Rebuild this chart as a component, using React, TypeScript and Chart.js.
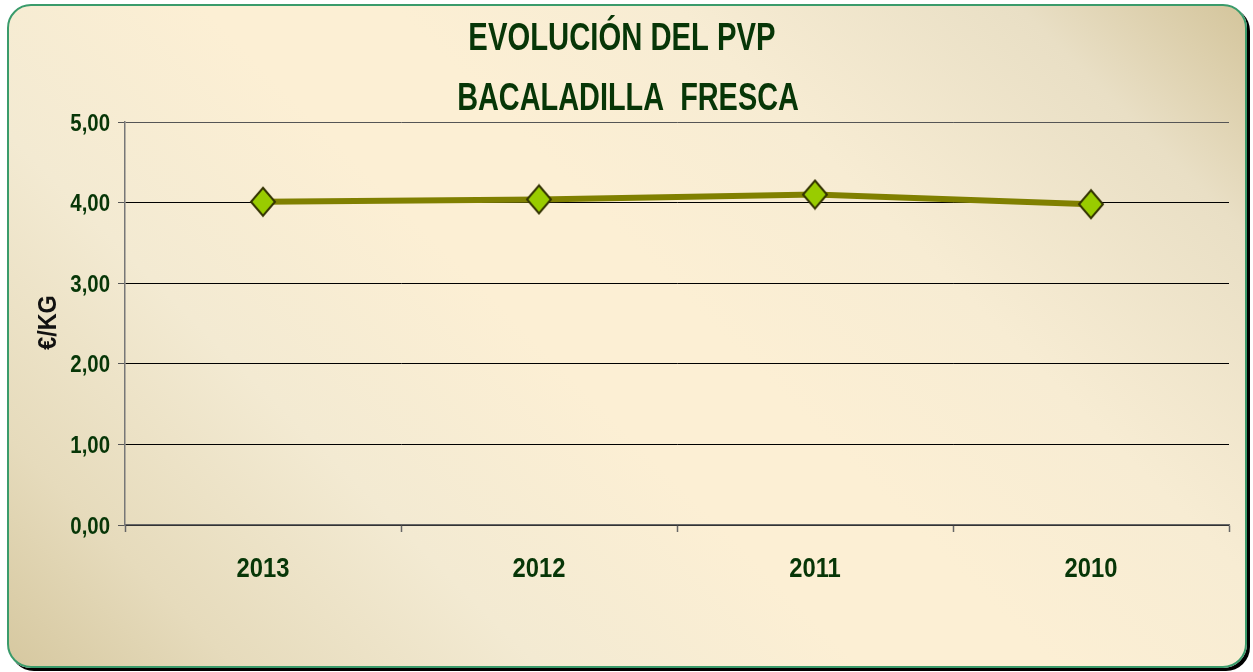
import React, { useEffect, useRef } from "react";
import { Chart, registerables } from "chart.js";

Chart.register(...registerables);

const categories: string[] = ["2013", "2012", "2011", "2010"];
const prices: number[] = [4.01, 4.04, 4.1, 3.98];
const yTicks: number[] = [0, 1, 2, 3, 4, 5];
const titleLines: string[] = ["EVOLUCIÓN DEL PVP", "BACALADILLA  FRESCA"];
const yAxisTitle = "€/KG";

const FONT = "'Liberation Sans', Arial, sans-serif";
const TEXT_GREEN = "#073607";

function makeDiamond(): HTMLCanvasElement {
  const c = document.createElement("canvas");
  const w = 28;
  const h = 32;
  c.width = w;
  c.height = h;
  const ctx = c.getContext("2d")!;
  ctx.beginPath();
  ctx.moveTo(w / 2, 2);
  ctx.lineTo(w - 2, h / 2);
  ctx.lineTo(w / 2, h - 2);
  ctx.lineTo(2, h / 2);
  ctx.closePath();
  ctx.fillStyle = "#99CC00";
  ctx.fill();
  ctx.lineWidth = 2;
  ctx.strokeStyle = "#333300";
  ctx.stroke();
  return c;
}

function narrowText(
  ctx: CanvasRenderingContext2D,
  text: string,
  x: number,
  y: number,
  sx: number,
  align: CanvasTextAlign
) {
  ctx.save();
  ctx.translate(x, y);
  ctx.scale(sx, 1);
  ctx.textAlign = align;
  ctx.textBaseline = "alphabetic";
  ctx.fillText(text, 0, 0);
  ctx.restore();
}

const fmt = (v: number) => v.toFixed(2).replace(".", ",");

const textPlugin = {
  id: "customText",
  afterDraw(chart: any) {
    const ctx = chart.ctx as CanvasRenderingContext2D;
    ctx.save();
    ctx.fillStyle = TEXT_GREEN;
    ctx.font = `bold 38px ${FONT}`;
    const cx = chart.width / 2 + 1;
    narrowText(ctx, titleLines[0], cx - 6, 46, 0.77, "center");
    narrowText(ctx, titleLines[1], cx, 106, 0.76, "center");

    // y tick labels
    const ys = chart.scales.y;
    ctx.font = `bold 24px ${FONT}`;
    yTicks.forEach((v) => {
      const py = ys.getPixelForValue(v);
      narrowText(ctx, fmt(v), ys.right - 15, py + 8.5, 0.85, "right");
    });

    // x tick labels
    const xs = chart.scales.x;
    ctx.font = `bold 28px ${FONT}`;
    categories.forEach((c, i) => {
      const px = xs.getPixelForValue(i);
      narrowText(ctx, c, px, 573, 0.85, "center");
    });

    // y axis title
    ctx.translate(49, 318.5);
    ctx.rotate(-Math.PI / 2);
    ctx.fillStyle = "#111";
    ctx.font = `bold 26px ${FONT}`;
    narrowText(ctx, yAxisTitle, 0, 0, 0.9, "center");
    ctx.restore();
  },
};

export default function App() {
  const ref = useRef<HTMLCanvasElement | null>(null);

  useEffect(() => {
    if (!ref.current) return;
    const diamond = makeDiamond();
    const chart = new Chart(ref.current, {
      type: "line",
      data: {
        labels: categories,
        datasets: [
          {
            data: prices,
            borderColor: "#808000",
            borderWidth: 6,
            pointStyle: diamond as any,
            pointRadius: 12,
            tension: 0,
          },
        ],
      },
      options: {
        responsive: false,
        animation: false,
        layout: { padding: { top: 118, right: 16, left: 0, bottom: 0 } },
        plugins: {
          legend: { display: false },
          title: { display: false },
          tooltip: { enabled: false },
        },
        scales: {
          x: {
            offset: true,
            grid: {
              offset: true,
              drawOnChartArea: false,
              tickLength: 7,
              tickColor: "#666",
              tickWidth: 1.5,
            },
            border: { color: "#666", width: 1.5 },
            ticks: { display: false },
            afterFit(scale: any) {
              scale.height = 143;
            },
          },
          y: {
            min: 0,
            max: 5,
            afterBuildTicks(scale: any) {
              scale.ticks = yTicks.map((v) => ({ value: v }));
            },
            grid: {
              color: (c: any) => (c.tick && c.tick.value === 5 ? "#555" : "#000"),
              tickColor: "#555",
              tickLength: 7,
              lineWidth: 1,
            },
            border: { color: "#777", width: 1.5 },
            ticks: { display: false },
            afterFit(scale: any) {
              scale.width = 118;
            },
          },
        },
      },
      plugins: [textPlugin],
    });
    return () => chart.destroy();
  }, []);

  return (
    <div>
      <div
        style={{
          position: "absolute",
          left: 7,
          top: 4,
          width: 1240,
          height: 664,
          boxSizing: "border-box",
          border: "2.5px solid #3A9B6B",
          borderRadius: 24,
          boxShadow: "3px 3px 0 #000",
          background:
            "linear-gradient(225deg, #D4C59C 0%, #E9DFC5 12%, #F7ECD3 30%, #FCEFD4 45%, #FCEFD4 55%, #F3EAD2 72%, #E6DBBC 88%, #D6C8A0 100%)",
        }}
      />
      <div style={{ position: "absolute", left: 7, top: 4, width: 1240, height: 664 }}>
        <canvas ref={ref} width={1240} height={664} style={{ display: "block" }} />
      </div>
    </div>
  );
}
